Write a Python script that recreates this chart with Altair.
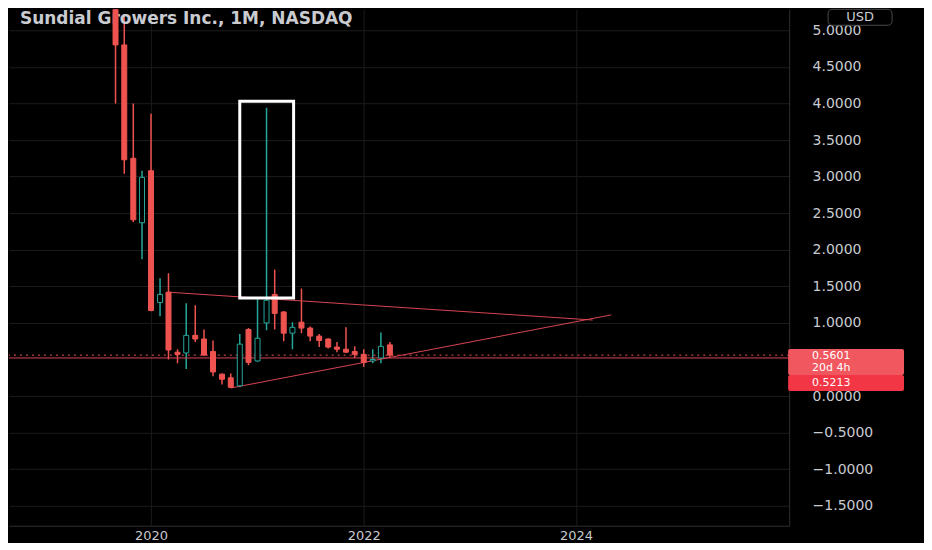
import altair as alt
import pandas as pd

# ---- monthly OHLC ----
months = ["2019-09-01", "2019-10-01", "2019-11-01", "2019-12-01",
          "2020-01-01", "2020-02-01", "2020-03-01", "2020-04-01", "2020-05-01", "2020-06-01",
          "2020-07-01", "2020-08-01", "2020-09-01", "2020-10-01", "2020-11-01", "2020-12-01",
          "2021-01-01", "2021-02-01", "2021-03-01", "2021-04-01", "2021-05-01", "2021-06-01",
          "2021-07-01", "2021-08-01", "2021-09-01", "2021-10-01", "2021-11-01", "2021-12-01",
          "2022-01-01", "2022-02-01", "2022-03-01", "2022-04-01"]
opens = [6.40, 4.80, 3.25, 2.37,
         3.08, 1.28, 1.42, 0.60, 0.59, 0.83,
         0.78, 0.61, 0.30, 0.25, 0.14, 0.91,
         0.48, 1.00, 1.39, 1.15, 0.86, 1.01,
         0.93, 0.82, 0.78, 0.67, 0.64, 0.61,
         0.57, 0.48, 0.52, 0.70]
highs = [6.60, 5.22, 4.00, 3.08,
         3.86, 1.61, 1.68, 0.64, 1.27, 1.24,
         0.91, 0.76, 0.31, 0.31, 0.85, 0.93,
         1.34, 3.94, 1.73, 1.16, 1.01, 1.47,
         0.95, 0.85, 0.79, 0.74, 0.94, 0.68,
         0.64, 0.64, 0.87, 0.74]
lows = [4.00, 3.04, 2.38, 1.87,
        1.16, 1.09, 0.50, 0.45, 0.37, 0.74,
        0.55, 0.27, 0.16, 0.11, 0.12, 0.42,
        0.47, 0.90, 0.91, 0.75, 0.64, 0.86,
        0.75, 0.67, 0.65, 0.60, 0.59, 0.52,
        0.40, 0.45, 0.45, 0.53]
closes = [4.80, 3.23, 2.41, 2.99,
          1.17, 1.39, 0.63, 0.57, 0.83, 0.78,
          0.56, 0.33, 0.23, 0.12, 0.71, 0.46,
          0.79, 1.31, 1.13, 0.86, 0.94, 0.93,
          0.82, 0.76, 0.67, 0.64, 0.60, 0.57,
          0.46, 0.50, 0.68, 0.5601]

# ---- drawings ----
trend_start_dates = ["2020-03-01", "2020-10-01"]
trend_start_vals = [1.42, 0.11]
trend_end_dates = ["2024-02-27", "2024-05-01"]
trend_end_vals = [1.04, 1.11]
box_dates = ["2020-11-01", "2021-05-05"]
box_vals = [1.34, 4.03]
level_price = 0.5213
last_price = 0.5601
countdown = "20d 4h"

# 0.5 label is hidden behind the price tags in the reference
y_ticks = [5.0, 4.5, 4.0, 3.5, 3.0, 2.5, 2.0, 1.5, 1.0, 0.0, -0.5, -1.0, -1.5]
year_ticks = [2020, 2022, 2024]
title_text = "Sundial Growers Inc., 1M, NASDAQ"
currency = "USD"

BG = "#000000"
RED = "#ef5350"
TEAL = "#26a69a"
TXT = "#c9cbd1"
GRID = "#1c1c1c"
BORDER = "#2e2e2e"
FONT = "DejaVu Sans"

candles = pd.DataFrame({"date": months, "open": opens, "high": highs,
                        "low": lows, "close": closes})
trend = pd.DataFrame({"d1": trend_start_dates, "v1": trend_start_vals,
                      "d2": trend_end_dates, "v2": trend_end_vals})
box = pd.DataFrame({"d1": [box_dates[0]], "d2": [box_dates[1]],
                    "v1": [box_vals[0]], "v2": [box_vals[1]]})
last_df = pd.DataFrame({"price": [last_price], "cd": [countdown]})
level_df = pd.DataFrame({"price": [level_price]})

x_scale = alt.Scale(type="utc", domain=[alt.DateTime(year=2018, month=9, date=17, utc=True),
                                        alt.DateTime(year=2025, month=12, date=16, utc=True)])
y_scale = alt.Scale(domain=[-1.772, 5.287], nice=False, zero=False, clamp=True)

x_axis = alt.Axis(values=[alt.DateTime(year=y, month=1, date=1, utc=True) for y in year_ticks],
                  format="%Y", title=None, grid=True, gridColor=GRID,
                  domainColor=BORDER, ticks=False, tickSize=0,
                  labelPadding=4, labelColor=TXT, labelFontSize=13,
                  labelFont=FONT, labelFlush=False, labelOverlap=False)
y_axis = alt.Axis(orient="right", values=y_ticks, format=".4f", title=None,
                  grid=True, gridColor=GRID, domainColor=BORDER,
                  ticks=False, tickSize=0, labelPadding=23, labelAlign="left",
                  labelColor=TXT, labelFontSize=14, labelFont=FONT,
                  labelFlush=False, labelOverlap=False, labelBound=False)

up = "datum.close >= datum.open"

title = alt.Chart(pd.DataFrame({"t": [title_text]})).mark_text(
    align="left", baseline="middle", font=FONT, fontSize=17, fontWeight="bold", color=TXT
).encode(x=alt.value(11), y=alt.value(10), text="t:N")

level_line = alt.Chart(level_df).mark_rule(color="#d84452", strokeWidth=1).encode(
    y=alt.Y("price:Q", scale=y_scale, axis=y_axis))
last_line = alt.Chart(last_df).mark_rule(color=RED, strokeWidth=1, strokeDash=[2, 4]).encode(
    y=alt.Y("price:Q", scale=y_scale, axis=y_axis))

trend_lines = alt.Chart(trend).mark_rule(color="#d84452", strokeWidth=1).encode(
    x=alt.X("d1:T", scale=x_scale, axis=x_axis), x2="d2:T",
    y=alt.Y("v1:Q", scale=y_scale, axis=y_axis), y2="v2:Q")

wicks = alt.Chart(candles).mark_rule(strokeWidth=1.5, clip=True).encode(
    x=alt.X("date:T", scale=x_scale, axis=x_axis),
    y=alt.Y("low:Q", scale=y_scale, axis=y_axis), y2="high:Q",
    color=alt.condition(up, alt.value(TEAL), alt.value(RED)))

bodies = alt.Chart(candles).mark_bar(size=5, strokeWidth=1, clip=True).encode(
    x=alt.X("date:T", scale=x_scale, axis=x_axis),
    y=alt.Y("open:Q", scale=y_scale, axis=y_axis), y2="close:Q",
    fill=alt.condition(up, alt.value(BG), alt.value(RED)),
    stroke=alt.condition(up, alt.value(TEAL), alt.value(RED)))

white_box = alt.Chart(box).mark_rect(fillOpacity=0, stroke="#ffffff", strokeWidth=3).encode(
    x=alt.X("d1:T", scale=x_scale, axis=x_axis), x2="d2:T",
    y=alt.Y("v1:Q", scale=y_scale, axis=y_axis), y2="v2:Q")

last_box = alt.Chart(last_df).mark_rect(color="#f0575f", yOffset=-6, y2Offset=20,
                                        cornerRadius=2).encode(
    x=alt.value(780), x2=alt.value(896),
    y=alt.Y("price:Q", scale=y_scale, axis=y_axis), y2="price:Q")
level_box = alt.Chart(level_df).mark_rect(color="#f23645", yOffset=17, y2Offset=33,
                                          cornerRadius=2).encode(
    x=alt.value(780), x2=alt.value(896),
    y=alt.Y("price:Q", scale=y_scale, axis=y_axis), y2="price:Q")

last_txt = alt.Chart(last_df).mark_text(align="left", baseline="middle", dy=1, font=FONT,
                                        fontSize=11, color="#ffffff").encode(
    x=alt.value(804), y=alt.Y("price:Q", scale=y_scale, axis=y_axis),
    text=alt.Text("price:Q", format=".4f"))
cd_txt = alt.Chart(last_df).mark_text(align="left", baseline="middle", dy=13, font=FONT,
                                      fontSize=11, color="#ffffff").encode(
    x=alt.value(804), y=alt.Y("price:Q", scale=y_scale, axis=y_axis), text="cd:N")
level_txt = alt.Chart(level_df).mark_text(align="left", baseline="middle", dy=25, font=FONT,
                                          fontSize=11, color="#ffffff").encode(
    x=alt.value(804), y=alt.Y("price:Q", scale=y_scale, axis=y_axis),
    text=alt.Text("price:Q", format=".4f"))

usd_box = alt.Chart(pd.DataFrame({"c": [currency]})).mark_rect(
    fillOpacity=0, stroke="#4a4a4a", strokeWidth=1, cornerRadius=4).encode(
    x=alt.value(820), x2=alt.value(884), y=alt.value(0), y2=alt.value(16))
usd_txt = alt.Chart(pd.DataFrame({"c": [currency]})).mark_text(
    align="center", baseline="middle", font=FONT, fontSize=13, color=TXT).encode(
    x=alt.value(852), y=alt.value(8), text="c:N")

chart = alt.layer(
    wicks, title, level_line, last_line, trend_lines, bodies, white_box,
    last_box, level_box, last_txt, cd_txt, level_txt, usd_box, usd_txt
).properties(
    width=781, height=517, background=BG,
    padding={"left": 0, "top": 0, "right": 20, "bottom": 0}
).configure_view(stroke=None).configure_axisY(labelOverlap=False)

chart.save("out.html", embed_options={"renderer": "svg", "actions": False})
